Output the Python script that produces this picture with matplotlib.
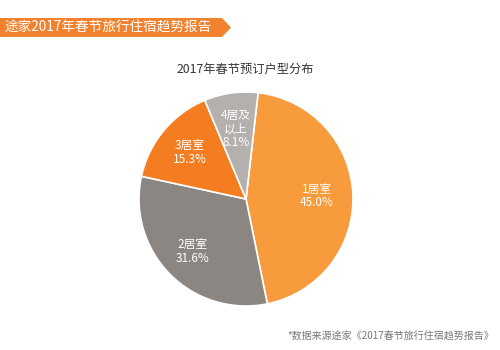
import numpy as np
import matplotlib.pyplot as plt
from matplotlib.patches import Polygon

plt.rcParams['font.family'] = ['Noto Sans CJK SC', 'DejaVu Sans']

# booking share by room type
room_types = ['1居室', '2居室', '3居室', '4居及\n以上']
shares = [45.0, 31.6, 15.3, 8.1]
colors = ['#F89B3C', '#8C8682', '#F47D22', '#B3B0AD']

banner_text = '途家2017年春节旅行住宿趋势报告'
chart_title = '2017年春节预订户型分布'
source_note = '*数据来源途家《2017春节旅行住宿趋势报告》'

W, H = 500, 350
fig = plt.figure(figsize=(5, 3.5), dpi=100)
fig.patch.set_facecolor('white')

# orange arrow banner at the top left
bg = fig.add_axes([0, 0, 1, 1])
bg.set_xlim(0, W)
bg.set_ylim(H, 0)
bg.set_axis_off()
banner = Polygon([(0, 18), (222, 18), (231, 27.5), (222, 37), (0, 37)],
                 closed=True, facecolor='#F2822E', edgecolor='none')
bg.add_patch(banner)
bg.text(5, 27.5, banner_text, color='white', fontsize=9.8,
        ha='left', va='center')
bg.text(245, 69, chart_title, color='#333333', fontsize=8.8,
        ha='center', va='center')
bg.text(494, 337, source_note, color='#777777', fontsize=7.2,
        ha='right', va='center')

# pie
cx, cy, r = 246, 199, 107
ax = fig.add_axes([(cx - r) / W, (H - cy - r) / H, 2 * r / W, 2 * r / H])
ax.set_axis_off()

wedges, texts = ax.pie(shares, colors=colors, startangle=83.5,
                       counterclock=False,
                       wedgeprops=dict(edgecolor='white', linewidth=1.2))

# labels sit inside each wedge
label_dist = [0.66, 0.70, 0.68, 0.66]
for i, w in enumerate(wedges):
    ang = np.deg2rad((w.theta1 + w.theta2) / 2)
    d = label_dist[i]
    ax.text(d * np.cos(ang), d * np.sin(ang),
            '%s\n%.1f%%' % (room_types[i], shares[i]), color='white',
            fontsize=8.5, ha='center', va='center', linespacing=1.05)
ax.set_xlim(-1, 1)
ax.set_ylim(-1, 1)

fig.savefig('out.png', dpi=100, facecolor='white')
